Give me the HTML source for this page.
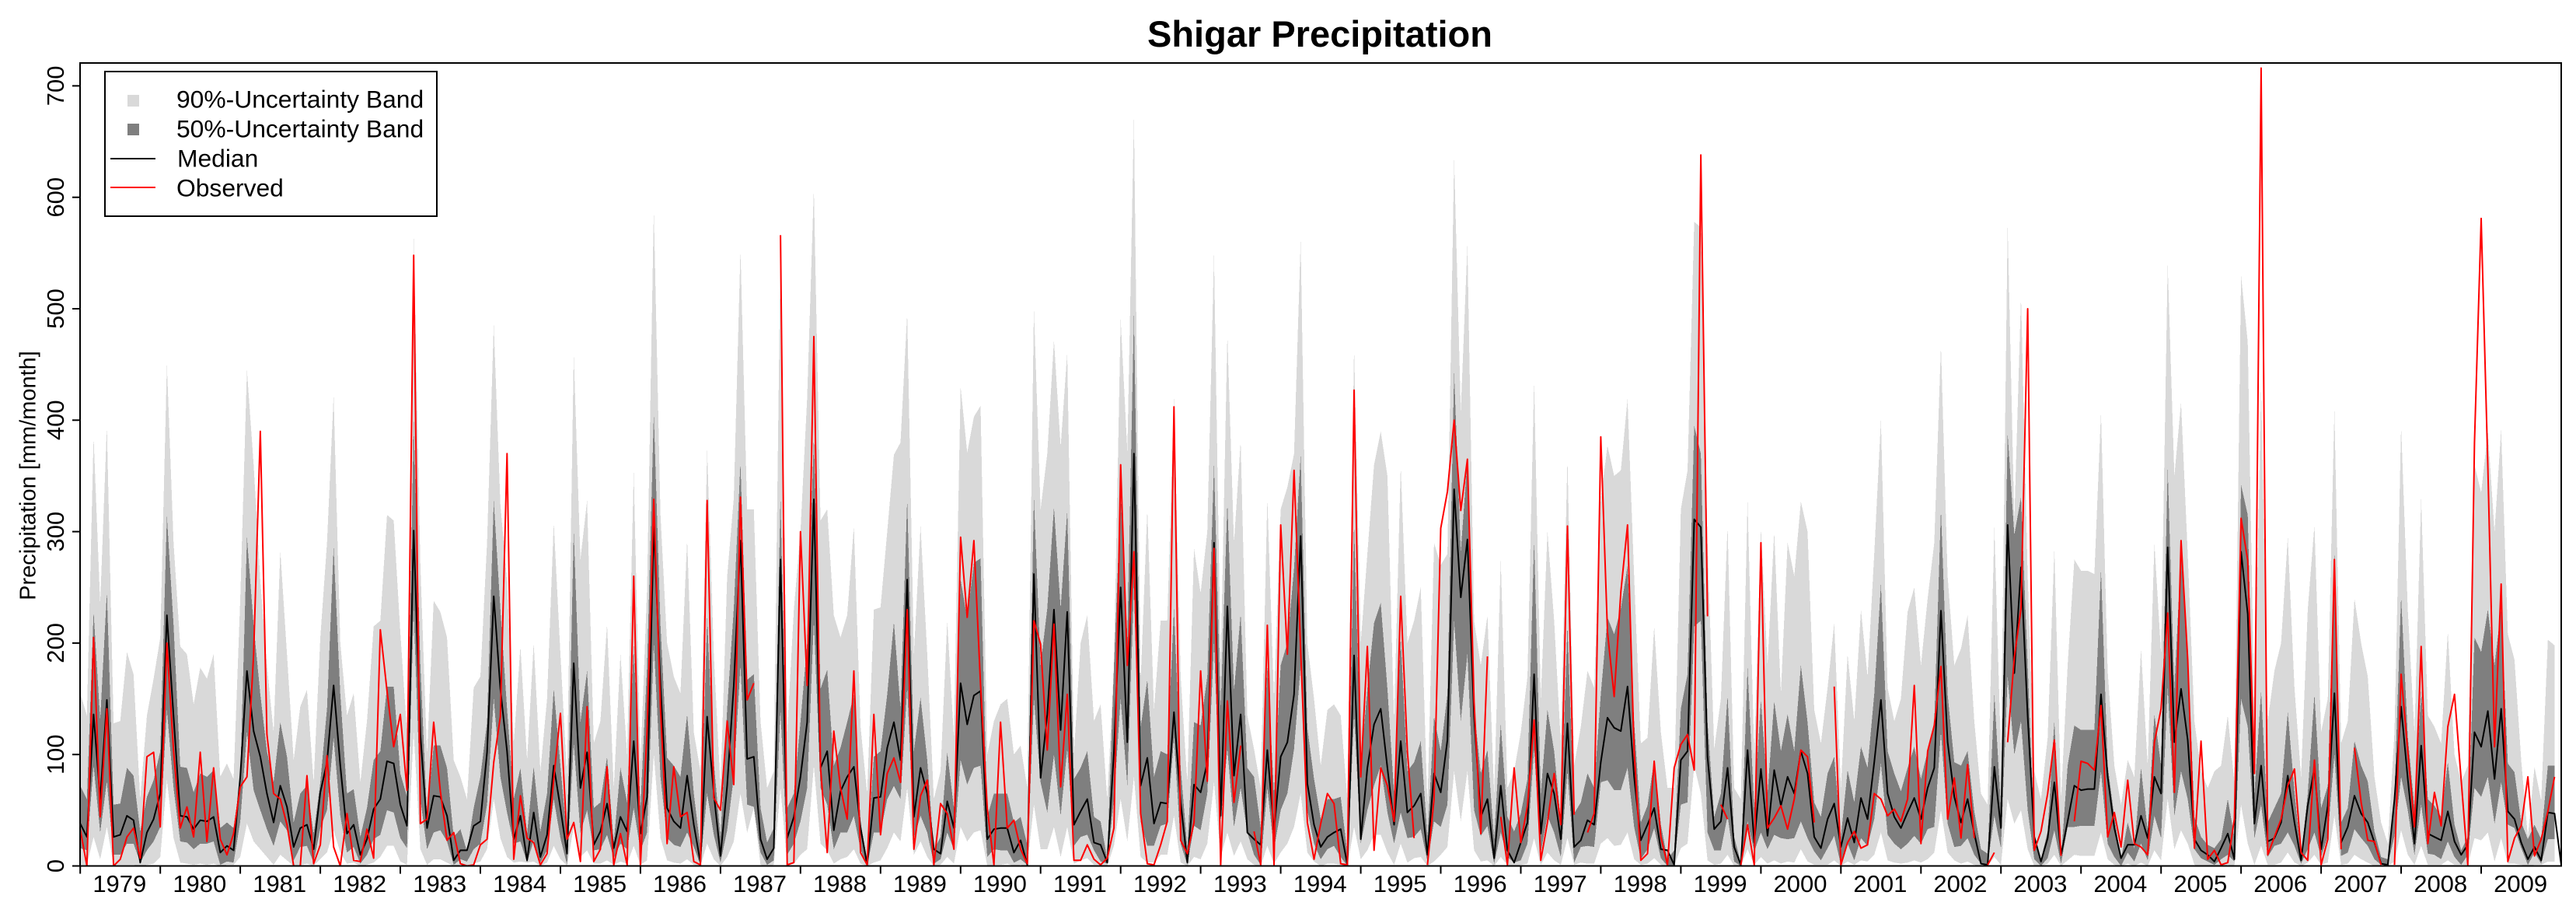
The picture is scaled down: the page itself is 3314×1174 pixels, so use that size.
<!DOCTYPE html>
<html lang="en">
<head>
<meta charset="utf-8">
<title>Shigar Precipitation</title>
<style>
html,body{margin:0;padding:0;background:#fff;}
svg{display:block;}
text{font-family:"Liberation Sans",Arial,sans-serif;fill:#000;}
</style>
</head>
<body>
<svg id="chart" xmlns="http://www.w3.org/2000/svg" width="3314" height="1174" viewBox="0 0 3314 1174">
  <defs><clipPath id="plot-clip"><rect x="103" y="81" width="3192" height="1033"/></clipPath></defs>
  <rect x="0" y="0" width="3314" height="1174" fill="#fff"/>
  <text x="1698" y="60" font-size="47" font-weight="bold" text-anchor="middle">Shigar Precipitation</text>
  <text transform="translate(45.5,611.5) rotate(-90)" font-size="29" text-anchor="middle">Precipitation [mm/month]</text>
  <g id="bands" clip-path="url(#plot-clip)"></g>
  <g id="lines" clip-path="url(#plot-clip)"></g>
  <g id="y-axis"></g>
  <g id="x-axis"></g>
  <rect x="103" y="81" width="3192" height="1032.5" fill="none" stroke="#000" stroke-width="2"/>
  <g>
    <rect x="135" y="92" width="427" height="186" fill="#fff" stroke="#000" stroke-width="2"/>
    <rect x="164" y="122" width="15" height="15" fill="#d9d9d9"/>
    <rect x="164" y="159" width="15" height="15" fill="#7f7f7f"/>
    <line x1="142" y1="204" x2="200" y2="204" stroke="#000" stroke-width="2"/>
    <line x1="142" y1="241" x2="200" y2="241" stroke="#f00" stroke-width="2"/>
    <text x="227" y="138.5" font-size="31.8">90%-Uncertainty Band</text>
    <text x="227" y="176.5" font-size="31.8">50%-Uncertainty Band</text>
    <text x="228" y="214.5" font-size="31.8">Median</text>
    <text x="227" y="252.5" font-size="31.8">Observed</text>
  </g>
</svg>
<script>
const yearLabels = ["1979","1980","1981","1982","1983","1984","1985","1986","1987","1988","1989","1990","1991","1992","1993","1994","1995","1996","1997","1998","1999","2000","2001","2002","2003","2004","2005","2006","2007","2008","2009"];
const yTickValues = [0,100,200,300,400,500,600,700];

const q95Values = [
155,135,385,235,395,128,130,192,172,60,135,168,
205,450,290,197,190,145,178,168,190,80,92,78,
240,445,360,256,180,120,283,190,95,143,158,75,
205,290,422,200,135,155,75,130,215,220,315,310,
210,120,565,270,100,238,228,205,95,80,60,160,
170,290,486,325,255,110,197,95,200,85,150,308,
190,80,460,275,328,110,130,217,70,190,100,354,
90,250,589,315,200,170,155,293,120,85,374,190,
70,260,330,553,320,320,130,70,85,555,120,230,
300,420,608,310,320,225,205,225,305,125,65,230,
232,300,369,380,496,190,305,190,60,85,220,115,
430,371,403,413,100,130,145,150,100,108,70,501,
320,370,472,376,461,100,200,225,130,145,60,180,
491,372,671,165,320,140,220,220,420,170,75,285,
245,300,549,180,477,290,381,135,105,70,330,150,
320,340,370,561,200,150,90,140,145,135,60,466,
200,280,360,390,350,130,359,200,220,250,55,290,
270,280,635,408,557,220,180,225,65,275,70,85,
120,170,436,150,300,220,110,366,90,125,175,160,
330,377,350,355,419,260,110,115,215,120,70,70,
320,355,578,573,290,105,150,305,70,60,328,100,
303,180,300,155,290,260,327,300,140,110,160,218,
70,190,130,230,170,280,400,160,130,150,228,250,
180,240,290,467,260,180,195,225,130,65,55,305,
100,575,310,511,260,85,60,115,285,60,180,275,
265,265,262,407,175,90,55,95,80,195,90,290,
190,540,350,416,280,130,85,70,85,90,135,75,
530,470,130,430,130,175,200,295,160,80,230,306,
120,150,410,110,130,240,200,170,80,39,20,120,
395,230,120,330,135,125,110,210,100,75,90,360,
335,390,300,392,208,185,95,26,89,59,203,198
];

const q75Values = [
72,60,228,131,246,55,56,88,81,31,62,77,
103,314,216,89,88,66,83,80,86,34,39,34,
78,295,216,154,103,75,129,98,39,65,72,29,
75,141,286,154,65,69,26,52,95,103,161,161,
83,62,400,180,44,108,108,88,26,33,13,52,
80,129,328,231,141,60,88,29,89,31,65,159,
90,24,301,129,175,52,57,98,21,88,57,198,
52,180,406,216,97,90,80,136,65,16,223,93,
26,141,231,362,167,172,52,21,34,332,52,65,
129,200,385,159,176,90,106,129,154,39,6,98,
103,154,219,141,329,103,151,95,14,26,102,52,
257,222,272,276,44,65,65,65,39,44,19,331,
180,231,322,231,319,78,88,103,44,40,6,180,
333,205,495,124,167,80,103,100,231,88,16,129,
126,170,360,141,326,157,226,88,80,34,180,65,
180,200,267,368,124,78,42,60,60,62,11,308,
90,159,218,236,159,65,205,85,93,112,26,134,
103,154,443,282,365,141,83,104,24,127,44,31,
47,78,292,65,140,103,39,216,47,57,83,70,
154,223,208,231,269,129,39,54,95,37,6,14,
141,172,395,370,129,44,65,153,26,3,178,52,
149,65,148,103,136,103,180,129,57,44,83,98,
26,86,57,107,88,154,253,103,83,67,88,107,
78,103,129,320,154,93,90,103,49,15,11,154,
52,388,297,331,180,29,6,31,130,6,90,126,
122,122,122,266,90,44,6,39,16,88,31,136,
90,357,159,282,195,44,26,19,16,24,60,26,
342,315,65,157,39,52,65,138,67,8,65,154,
52,72,280,39,52,112,90,76,31,8,6,65,
242,116,52,157,60,54,44,93,37,14,26,205,
192,230,180,231,92,84,39,24,37,24,90,90
];

const q25Values = [
16,14,90,30,76,10,10,20,20,3,14,22,
35,140,70,22,21,15,20,20,22,1,4,3,
40,120,68,50,33,18,40,32,5,17,18,3,
34,50,115,45,12,17,2,10,24,28,50,48,
25,16,230,60,15,30,32,22,1,6,4,15,
20,55,150,80,48,20,22,3,23,3,14,60,
25,1,110,30,50,14,15,28,7,20,15,52,
14,30,200,80,25,19,17,30,17,1,65,28,
3,32,80,180,55,53,12,1,5,140,10,20,
40,70,220,70,55,15,30,30,45,15,0,30,
30,60,72,60,160,25,45,30,2,6,30,15,
95,73,88,90,8,15,14,14,3,6,1,150,
75,48,100,45,105,18,26,28,14,4,2,60,
150,72,250,40,18,18,36,38,115,20,1,36,
32,65,200,40,105,35,70,30,10,1,70,15,
50,65,105,180,50,20,6,15,18,8,0,135,
20,50,72,90,48,20,48,25,26,33,4,40,
35,55,220,130,190,50,27,36,2,30,8,3,
5,20,105,12,45,30,8,85,3,17,18,17,
75,77,68,68,88,35,6,15,34,7,0,1,
55,57,215,220,30,14,14,45,4,0,40,13,
30,15,28,25,24,25,40,25,13,5,16,27,
1,20,5,25,18,42,92,28,20,15,20,27,
20,33,35,120,38,17,18,25,10,2,1,45,
16,170,100,130,50,6,0,7,32,2,35,35,
36,36,36,85,20,8,0,12,4,20,5,45,
25,160,45,85,60,15,7,4,1,6,10,4,
150,125,25,55,8,18,20,30,18,2,15,30,
8,27,100,9,12,33,25,18,6,1,1,27,
80,50,10,55,11,10,6,22,8,1,10,70,
62,80,38,75,37,34,16,1,12,2,24,24
];

const q05Values = [
1,1,26,6,35,1,1,1,1,0,1,2,
8,77,25,3,2,1,2,1,2,0,1,1,
8,38,22,15,8,1,10,5,0,1,2,0,
6,12,32,12,2,3,0,1,3,8,18,18,
4,1,120,15,1,6,6,3,0,1,0,2,
4,15,60,25,8,3,4,3,4,0,3,18,
6,0,35,8,14,2,2,5,1,4,2,18,
1,5,100,25,5,3,2,6,1,0,20,6,
0,8,22,65,30,52,1,0,1,70,1,2,
10,15,90,20,14,2,6,8,15,2,0,3,
5,16,30,22,70,10,22,8,0,1,8,2,
35,22,30,32,0,1,1,2,0,1,0,55,
15,15,35,8,35,2,5,7,1,1,0,18,
60,22,80,8,3,3,10,10,45,3,0,8,
6,20,75,8,30,9,22,6,1,0,18,2,
12,20,35,65,12,4,0,2,2,1,0,35,
6,14,28,28,12,1,20,3,7,8,0,4,
10,17,85,40,85,14,4,5,0,8,1,0,
1,2,25,1,12,5,1,25,1,3,2,2,
20,25,18,19,30,6,1,2,7,1,0,0,
16,20,90,65,5,1,2,10,0,0,15,1,
8,2,5,2,4,3,15,4,1,1,1,5,
0,4,1,5,4,10,30,5,3,2,3,5,
3,6,12,50,12,5,2,4,1,0,0,8,
1,60,38,50,15,0,0,2,10,0,5,10,
9,9,9,30,6,1,0,2,0,3,0,14,
5,60,15,32,20,1,0,0,0,0,1,0,
55,20,1,18,1,1,3,12,3,0,3,10,
1,3,45,1,2,10,6,3,0,0,0,4,
32,10,1,18,1,1,1,5,1,1,1,25,
23,30,4,25,2,2,1,0,1,1,4,4
];

const medianValues = [
38,26,136,60,149,26,28,45,41,3,30,42,
65,225,134,45,44,33,41,40,44,12,18,14,
80,175,121,98,65,39,72,53,17,34,37,15,
66,93,162,90,29,37,10,24,51,60,94,92,
55,36,301,118,34,63,62,45,5,14,14,36,
40,102,242,159,103,24,45,5,48,8,28,90,
52,11,182,70,102,19,31,56,16,44,31,112,
29,62,305,162,52,40,34,81,37,3,134,65,
9,72,162,292,96,98,24,6,16,275,25,44,
80,129,329,88,103,32,67,80,89,34,1,61,
62,106,129,95,257,44,88,65,15,11,58,34,
164,127,153,157,24,33,34,34,12,23,1,262,
79,136,230,122,228,37,49,60,21,19,3,103,
250,111,370,72,97,38,57,56,138,57,3,73,
66,93,290,45,233,81,136,30,24,19,104,31,
98,111,154,296,74,37,17,26,30,33,1,189,
24,88,127,141,88,37,112,48,54,65,10,83,
66,113,338,241,293,134,44,60,7,72,14,3,
21,39,172,29,83,65,24,128,17,23,41,37,
93,133,124,121,161,80,23,37,52,15,14,1,
95,103,311,304,98,33,40,88,17,1,104,21,
87,27,86,54,80,65,103,83,26,16,42,56,
17,43,21,61,42,93,149,65,44,34,48,61,
42,70,88,229,111,62,39,60,29,2,1,89,
34,306,173,268,134,26,4,25,75,10,40,72,
68,69,69,154,80,34,7,19,19,45,25,80,
65,286,111,159,113,24,14,10,4,16,29,6,
282,226,38,90,22,25,39,81,39,5,54,88,
15,54,155,21,35,63,47,39,21,2,1,60,
143,78,20,108,29,26,23,49,22,10,19,120,
107,139,78,141,49,42,21,6,17,5,48,47,
1
];

const observedValues = [
33,0,205,44,141,0,6,26,34,7,98,102,
35,200,103,34,53,26,102,22,88,24,10,29,
71,80,190,390,118,65,60,37,0,0,81,2,
19,99,17,0,47,5,4,33,7,212,157,107,
136,68,548,38,42,129,67,23,30,2,0,1,
19,24,93,134,370,6,63,25,21,1,11,78,
137,24,39,4,143,4,15,89,1,29,1,260,
0,122,329,141,20,89,44,48,4,1,328,61,
50,130,73,331,149,164,null,null,null,566,1,3,
300,162,475,88,12,121,70,42,175,12,1,136,
28,83,97,75,230,15,63,77,1,56,47,15,
295,223,292,162,52,1,129,34,41,15,2,220,
199,104,217,71,154,5,5,19,6,1,7,34,
360,180,282,47,2,1,19,40,412,23,11,39,
175,76,285,1,148,57,108,null,31,1,216,1,
306,190,355,193,39,6,38,65,56,2,1,427,
80,197,14,88,72,40,242,103,25,null,1,60,
303,336,400,319,365,147,29,188,null,44,1,88,
21,54,131,5,39,83,37,305,46,null,30,47,
385,210,152,246,306,103,5,11,94,26,1,88,
109,118,86,638,224,null,55,42,null,1,37,1,
290,34,43,54,33,60,104,98,39,null,null,161,
1,21,31,16,19,65,60,45,51,40,60,162,
20,103,126,179,42,79,25,91,25,null,1,12,
null,111,187,231,500,14,31,65,113,9,null,40,
94,92,86,144,26,48,17,77,20,17,10,111,
141,227,66,292,185,16,112,6,14,1,3,42,
312,274,83,716,10,26,42,72,87,12,5,95,
1,24,275,15,null,106,57,23,22,1,null,1,
172,103,35,197,20,66,36,125,154,77,1,380,
581,358,107,253,4,25,36,80,9,24,49,80
];

const SVG_NS = "http://www.w3.org/2000/svg";
const plotLeft = 103.2, plotBottom = 1113.5, monthStep = 8.58, unitHeight = 1.433;
function xScale(monthIndex) { return plotLeft + monthIndex * monthStep; }
function yScale(value) { return plotBottom - value * unitHeight; }
function px(n) { return n.toFixed(1); }

function bandPoints(lower, upper) {
  const pts = [];
  for (let i = 0; i < upper.length; i++) pts.push(px(xScale(i)) + "," + px(yScale(upper[i])));
  for (let i = lower.length - 1; i >= 0; i--) pts.push(px(xScale(i)) + "," + px(yScale(lower[i])));
  return pts.join(" ");
}
function linePath(values) {
  let d = "", pen = false;
  values.forEach(function (v, i) {
    if (v === null) { pen = false; return; }
    d += (pen ? "L" : "M") + px(xScale(i)) + " " + px(yScale(v));
    pen = true;
  });
  return d;
}

const bandsGroup = document.getElementById("bands");
const band90 = document.createElementNS(SVG_NS, "polygon");


band90.setAttribute("points", bandPoints(q05Values, q95Values));
band90.setAttribute("fill", "#d9d9d9");
band90.setAttribute("shape-rendering", "crispEdges");
bandsGroup.appendChild(band90);

const band50 = document.createElementNS(SVG_NS, "polygon");


band50.setAttribute("points", bandPoints(q25Values, q75Values));
band50.setAttribute("fill", "#7f7f7f");
band50.setAttribute("shape-rendering", "crispEdges");
bandsGroup.appendChild(band50);

const linesGroup = document.getElementById("lines");
const medianLine = document.createElementNS(SVG_NS, "path");


medianLine.setAttribute("d", linePath(medianValues));
medianLine.setAttribute("fill", "none");
medianLine.setAttribute("stroke", "#000");
medianLine.setAttribute("stroke-width", "2");
medianLine.setAttribute("stroke-linejoin", "round");
linesGroup.appendChild(medianLine);

const observedLine = document.createElementNS(SVG_NS, "path");


observedLine.setAttribute("d", linePath(observedValues));
observedLine.setAttribute("fill", "none");
observedLine.setAttribute("stroke", "#f00");
observedLine.setAttribute("stroke-width", "2");
observedLine.setAttribute("stroke-linejoin", "round");
linesGroup.appendChild(observedLine);

const yAxisGroup = document.getElementById("y-axis");
yTickValues.forEach(function (tick) {
  const y = yScale(tick);
  const mark = document.createElementNS(SVG_NS, "line");
  
  
  mark.setAttribute("x1", 93);
  mark.setAttribute("x2", 103);
  mark.setAttribute("y1", px(y));
  mark.setAttribute("y2", px(y));
  mark.setAttribute("stroke", "#000");
  mark.setAttribute("stroke-width", "2");
  yAxisGroup.appendChild(mark);
  const label = document.createElementNS(SVG_NS, "text");
  
  
  label.setAttribute("transform", "translate(82," + px(y) + ") rotate(-90)");
  label.setAttribute("font-size", "31");
  label.setAttribute("text-anchor", "middle");
  label.textContent = String(tick);
  yAxisGroup.appendChild(label);
});

const xAxisGroup = document.getElementById("x-axis");
yearLabels.forEach(function (year, k) {
  const x = xScale(k * 12);
  const mark = document.createElementNS(SVG_NS, "line");
  
  
  mark.setAttribute("x1", px(x));
  mark.setAttribute("x2", px(x));
  mark.setAttribute("y1", plotBottom);
  mark.setAttribute("y2", 1123.5);
  mark.setAttribute("stroke", "#000");
  mark.setAttribute("stroke-width", "2");
  xAxisGroup.appendChild(mark);
  const label = document.createElementNS(SVG_NS, "text");
  
  
  label.setAttribute("x", px(xScale(k * 12 + 5.9)));
  label.setAttribute("y", 1147);
  label.setAttribute("font-size", "31");
  label.setAttribute("text-anchor", "middle");
  label.textContent = year;
  xAxisGroup.appendChild(label);
});
</script>
</body>
</html>
